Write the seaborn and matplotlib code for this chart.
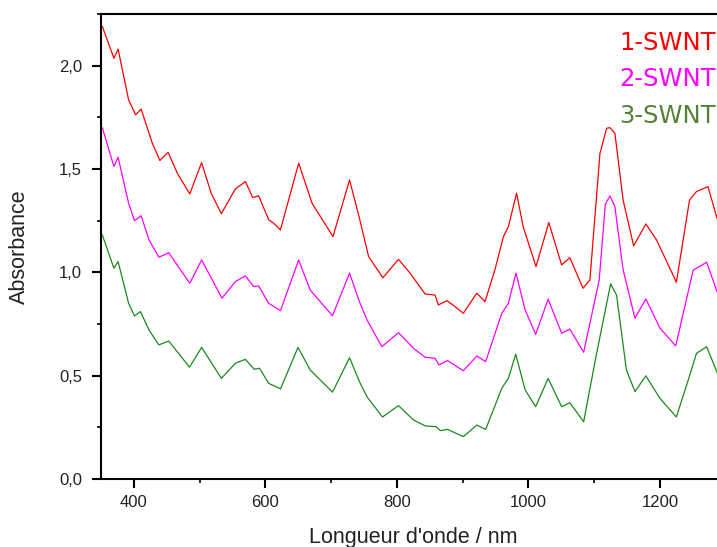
import matplotlib
matplotlib.use("Agg")
import matplotlib.pyplot as plt
import seaborn as sns
import pandas as pd
from matplotlib.ticker import MultipleLocator

# ---- data ----
wl_1 = [352, 369.6, 376, 392, 402.6, 411, 428, 439.5, 452, 466, 485, 503, 517.5, 533,
        554.4, 569.6, 580.7, 589.8, 605, 612.6, 622.8, 650.6, 671, 702.8, 728, 743, 757,
        778.7, 802.4, 820, 843, 858, 863, 876, 888.5, 901, 921.5, 934, 949, 962, 969.5,
        982, 992, 1011.5, 1031, 1050.5, 1063, 1083, 1093.5, 1108.8, 1119, 1124, 1131.5,
        1144, 1160, 1178.6, 1194.8, 1225, 1245, 1255.6, 1273, 1287]
abs_1 = [2.19, 2.036, 2.08, 1.834, 1.762, 1.79, 1.625, 1.541, 1.581, 1.48, 1.379, 1.531,
         1.383, 1.284, 1.404, 1.439, 1.362, 1.37, 1.254, 1.238, 1.205, 1.528, 1.334, 1.173,
         1.447, 1.262, 1.076, 0.974, 1.063, 0.996, 0.895, 0.89, 0.842, 0.863, 0.834, 0.802,
         0.899, 0.858, 1.012, 1.173, 1.221, 1.383, 1.221, 1.028, 1.241, 1.036, 1.071, 0.923,
         0.963, 1.576, 1.697, 1.70, 1.673, 1.35, 1.128, 1.234, 1.157, 0.952, 1.35, 1.391,
         1.415, 1.26]

wl_2 = [352, 369.6, 376, 392, 401, 411, 423, 438, 453, 485, 503, 534, 554.4, 569.6, 582,
        589.8, 605, 623, 650.6, 668, 702, 728, 743, 754.5, 777, 802.4, 825, 843, 858, 864,
        877, 901, 921.5, 935, 959.5, 969.5, 981, 995, 1011, 1030, 1050.5, 1063, 1084,
        1107.6, 1117, 1124, 1131.5, 1144, 1162, 1178.6, 1200, 1224, 1250.5, 1271, 1287]
abs_2 = [1.70, 1.512, 1.557, 1.334, 1.25, 1.274, 1.157, 1.073, 1.095, 0.947, 1.06, 0.875,
         0.955, 0.983, 0.931, 0.934, 0.85, 0.815, 1.06, 0.915, 0.79, 0.996, 0.858, 0.77,
         0.64, 0.708, 0.633, 0.589, 0.584, 0.552, 0.573, 0.524, 0.595, 0.568, 0.802, 0.85,
         0.996, 0.818, 0.70, 0.87, 0.705, 0.725, 0.613, 0.963, 1.33, 1.37, 1.318, 1.012,
         0.778, 0.871, 0.73, 0.644, 1.01, 1.049, 0.905]

wl_3 = [352, 369.6, 376, 392, 401, 410, 423, 438, 453, 484.6, 503, 533, 554.4, 569.6, 583,
        591, 605, 623, 649.6, 668, 702, 728, 743, 754.5, 778, 802.4, 825, 843, 859.7, 866,
        877, 901, 921.5, 935, 959.5, 969.5, 980.7, 995, 1011, 1030, 1050.5, 1063, 1084,
        1103.7, 1125, 1134, 1149, 1162, 1178.6, 1200, 1225, 1243, 1255.6, 1271, 1287]
abs_3 = [1.181, 1.02, 1.052, 0.85, 0.789, 0.81, 0.721, 0.649, 0.668, 0.541, 0.637, 0.487,
         0.56, 0.579, 0.531, 0.536, 0.463, 0.436, 0.637, 0.528, 0.42, 0.587, 0.471, 0.398,
         0.30, 0.355, 0.286, 0.257, 0.253, 0.234, 0.24, 0.205, 0.261, 0.24, 0.439, 0.487,
         0.604, 0.431, 0.35, 0.487, 0.35, 0.369, 0.277, 0.608, 0.944, 0.89, 0.528, 0.423,
         0.499, 0.39, 0.30, 0.479, 0.608, 0.64, 0.515]

series_names = ["1-SWNT", "2-SWNT", "3-SWNT"]
line_colors = ["#FF0000", "#FF00FF", "#1A8A1A"]
text_colors = ["#FF0000", "#FF00FF", "#548235"]

x_ticks = [400, 600, 800, 1000, 1200]
y_ticks = [0.0, 0.5, 1.0, 1.5, 2.0]
y_ticklabels = ["0,0", "0,5", "1,0", "1,5", "2,0"]
x_label = "Longueur d'onde / nm"
y_label = "Absorbance"

df = pd.concat([
    pd.DataFrame({"wl": w, "abs": a, "sample": n})
    for w, a, n in zip([wl_1, wl_2, wl_3], [abs_1, abs_2, abs_3], series_names)
], ignore_index=True)

# ---- style ----
sns.set_style("ticks")
plt.rcParams["font.family"] = ["Liberation Sans", "DejaVu Sans"]

fig = plt.figure(figsize=(7.17, 5.47), dpi=100)
ax = fig.add_axes([101 / 717, 68 / 547, 624.7 / 717, 465 / 547])

sns.lineplot(data=df, x="wl", y="abs", hue="sample", palette=line_colors,
             hue_order=series_names, linewidth=0.9, legend=False, ax=ax, sort=True)

ax.set_xlim(350, 1300)
ax.set_ylim(0, 2.25)
ax.set_xticks(x_ticks)
ax.set_xticklabels([str(t) for t in x_ticks])
ax.set_yticks(y_ticks)
ax.set_yticklabels(y_ticklabels)
ax.xaxis.set_minor_locator(MultipleLocator(100))
ax.yaxis.set_minor_locator(MultipleLocator(0.25))

for side in ["left", "bottom", "top", "right"]:
    ax.spines[side].set_visible(True)
    ax.spines[side].set_linewidth(1.5)
    ax.spines[side].set_color("black")

ax.tick_params(axis="both", which="major", direction="out", length=6.5, width=1.5,
               labelsize=12, colors="black", labelcolor="#222222")
ax.tick_params(axis="x", which="major", pad=5)
ax.tick_params(axis="y", which="major", pad=7)
ax.tick_params(axis="both", which="minor", direction="out", length=3, width=1.2,
               colors="black")
ax.tick_params(top=False, right=False, which="both")

ax.set_xlabel(x_label, fontsize=15.5, color="#222222")
ax.set_ylabel(y_label, fontsize=15.5, color="#222222")
ax.xaxis.set_label_coords(0.5, -0.103)
ax.yaxis.set_label_coords(-0.1137, 0.5)

text_y = [0.9086, 0.8428, 0.776]
for name, c, yy in zip(series_names, text_colors, text_y):
    fig.text(0.8633, yy, name, color=c, fontsize=17.5, family=["DejaVu Sans"],
             va="baseline", ha="left")

fig.savefig("out.png", dpi=100)
